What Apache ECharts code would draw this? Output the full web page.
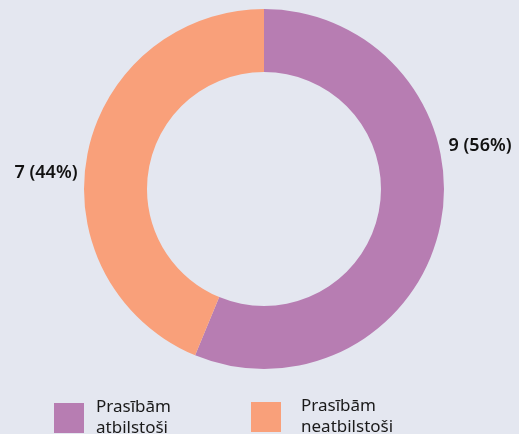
<!DOCTYPE html>
<html>
<head>
<meta charset="utf-8">
<script src="https://cdn.jsdelivr.net/npm/echarts@6/dist/echarts.min.js"></script>
<style>
  html, body { margin: 0; padding: 0; background: #e4e7f0; }
  #chart { width: 519px; height: 434px; }
</style>
</head>
<body>
<div id="chart"></div>
<script>
var categories = ['Prasībām\natbilstoši', 'Prasībām\nneatbilstoši'];
var values = [9, 7];
var colors = ['#b77db2', '#f9a07a'];
// label nudges so they sit where the original put them
var labelShiftX = [3, -5];
var labelShiftY = [-78, 19];

var pieData = [];
for (var i = 0; i < categories.length; i++) {
    pieData.push({ name: categories[i], value: values[i], itemStyle: { color: colors[i] } });
}

var total = 0;
values.forEach(function (v) { total += v; });

var legendText = {
    fontFamily: 'Noto Sans',
    fontSize: 17,
    lineHeight: 21,
    color: '#1a1a1a'
};

var option = {
    backgroundColor: '#e4e7f0',
    animation: false,
    legend: [
        {
            data: [categories[0]],
            left: 54, top: 397, padding: 0,
            itemWidth: 30, itemHeight: 30, itemGap: 0,
            icon: 'rect',
            textStyle: Object.assign({}, legendText, { padding: [0, 0, 0, 7] })
        },
        {
            data: [categories[1]],
            left: 251, top: 396, padding: 0,
            itemWidth: 30, itemHeight: 30, itemGap: 0,
            icon: 'rect',
            textStyle: Object.assign({}, legendText, { padding: [0, 0, 0, 15] })
        }
    ],
    series: [
        {
            type: 'pie',
            center: [264, 189],
            radius: [117, 180],
            startAngle: 90,
            clockwise: true,
            data: pieData,
            label: {
                position: 'outside',
                distance: 7,
                fontFamily: 'Noto Sans',
                fontSize: 18,
                fontWeight: 600,
                letterSpacing: 1,
                color: '#111',
                formatter: function (p) {
                    return p.value + ' (' + Math.round(p.value / total * 100) + '%)';
                }
            },
            labelLine: { show: false, length: 0, length2: 0 },
            labelLayout: function (p) {
                return { dx: labelShiftX[p.dataIndex], dy: labelShiftY[p.dataIndex] };
            },
            emphasis: { disabled: true }
        }
    ]
};

var myChart = echarts.init(document.getElementById('chart'));
myChart.setOption(option);
</script>
</body>
</html>
